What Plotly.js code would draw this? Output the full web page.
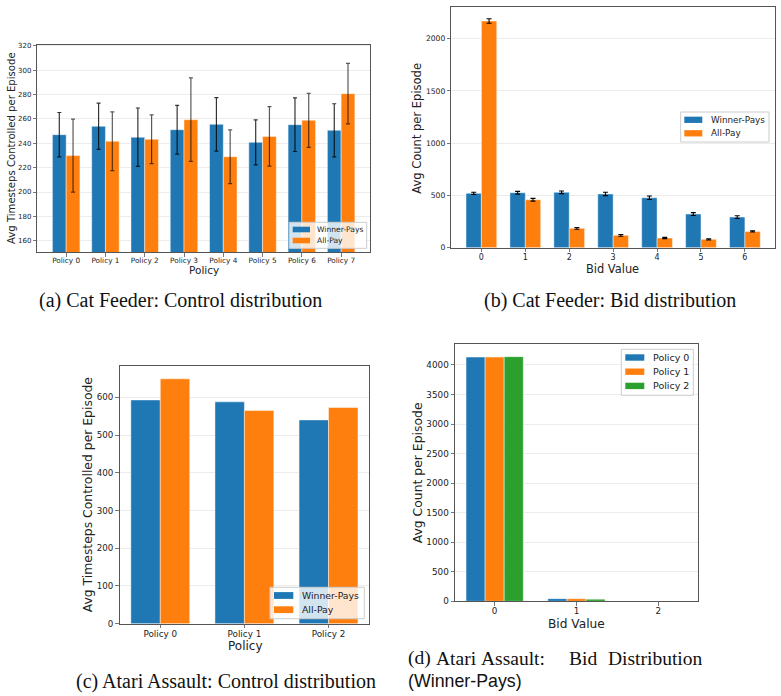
<!DOCTYPE html>
<html>
<head>
<meta charset="utf-8">
<script src="https://cdn.plot.ly/plotly-3.0.1.min.js"></script>
<style>html,body{margin:0;padding:0;background:#fff}#chart{width:781px;height:696px}</style>
</head>
<body>
<div id="chart"></div>
<script>
// ---------- Data ----------
// (a) Cat Feeder: control distribution
const cfPolicies = ['Policy 0','Policy 1','Policy 2','Policy 3','Policy 4','Policy 5','Policy 6','Policy 7'];
const cfCtrlWinnerPays    = [247.1, 254.0, 245.0, 251.2, 255.6, 240.8, 255.3, 250.7];
const cfCtrlWinnerPaysErr = [18.2, 19.0, 24.0, 20.0, 22.0, 18.5, 22.0, 21.8];
const cfCtrlAllPay        = [229.9, 241.7, 243.3, 259.4, 229.0, 245.7, 258.9, 280.8];
const cfCtrlAllPayErr     = [30.0, 24.2, 20.0, 34.3, 22.1, 24.5, 22.2, 24.9];

// (b) Cat Feeder: bid distribution
const cfBidValues        = ['0','1','2','3','4','5','6'];
const cfBidWinnerPays    = [520, 526, 530, 514, 478, 322, 293];
const cfBidWinnerPaysErr = [11, 13, 13, 16, 17, 14, 13];
const cfBidAllPay        = [2169, 459, 185, 118, 93, 80, 156];
const cfBidAllPayErr     = [22, 13, 8, 8, 6, 6, 6];

// (c) Atari Assault: control distribution
const atPolicies        = ['Policy 0','Policy 1','Policy 2'];
const atCtrlWinnerPays  = [593, 588, 540];
const atCtrlAllPay      = [649, 565, 573];

// (d) Atari Assault: bid distribution (Winner-Pays)
const atBidValues   = ['0','1','2'];
const atBidPolicy0  = [4133, 45, 6];
const atBidPolicy1  = [4133, 44, 6];
const atBidPolicy2  = [4140, 36, 2];

// Series names
const auctionNames = ['Winner-Pays', 'All-Pay'];
const policyNames  = ['Policy 0', 'Policy 1', 'Policy 2'];

// ---------- Helpers ----------
const W = 781, H = 696;
const px = x => x / W;
const py = y => 1 - y / H;
const idx = arr => arr.map((_, i) => i);
const BLUE = '#1f77b4', ORANGE = '#ff7f0e', GREEN = '#2ca02c';
const FONT = 'DejaVu Sans, sans-serif';
const edge = {color: 'rgba(255,255,255,0.45)', width: 1};

const traces = [
  // (a)
  {type:'bar', x: idx(cfPolicies), y: cfCtrlWinnerPays, name: auctionNames[0], xaxis:'x', yaxis:'y',
   marker:{color: BLUE, line: edge}, showlegend:false,
   error_y:{type:'data', array: cfCtrlWinnerPaysErr, visible:true, color:'rgba(0,0,0,0.8)', thickness:1.2, width:2}},
  {type:'bar', x: idx(cfPolicies), y: cfCtrlAllPay, name: auctionNames[1], xaxis:'x', yaxis:'y',
   marker:{color: ORANGE, line: edge}, showlegend:false,
   error_y:{type:'data', array: cfCtrlAllPayErr, visible:true, color:'rgba(0,0,0,0.65)', thickness:1.2, width:2}},
  // (b)
  {type:'bar', x: idx(cfBidValues), y: cfBidWinnerPays, name: auctionNames[0], xaxis:'x2', yaxis:'y2',
   marker:{color: BLUE, line: edge}, showlegend:false,
   error_y:{type:'data', array: cfBidWinnerPaysErr, visible:true, color:'#000', thickness:1.1, width:2.5}},
  {type:'bar', x: idx(cfBidValues), y: cfBidAllPay, name: auctionNames[1], xaxis:'x2', yaxis:'y2',
   marker:{color: ORANGE, line: edge}, showlegend:false,
   error_y:{type:'data', array: cfBidAllPayErr, visible:true, color:'#000', thickness:1.1, width:2.5}},
  // (c)
  {type:'bar', x: idx(atPolicies), y: atCtrlWinnerPays, name: auctionNames[0], xaxis:'x3', yaxis:'y3',
   marker:{color: BLUE, line: edge}, showlegend:false},
  {type:'bar', x: idx(atPolicies), y: atCtrlAllPay, name: auctionNames[1], xaxis:'x3', yaxis:'y3',
   marker:{color: ORANGE, line: edge}, showlegend:false},
  // (d)
  {type:'bar', x: idx(atBidValues), y: atBidPolicy0, name: policyNames[0], xaxis:'x4', yaxis:'y4',
   marker:{color: BLUE, line: edge}, showlegend:false},
  {type:'bar', x: idx(atBidValues), y: atBidPolicy1, name: policyNames[1], xaxis:'x4', yaxis:'y4',
   marker:{color: ORANGE, line: edge}, showlegend:false},
  {type:'bar', x: idx(atBidValues), y: atBidPolicy2, name: policyNames[2], xaxis:'x4', yaxis:'y4',
   marker:{color: GREEN, line: edge}, showlegend:false}
];

function xax(domain, range, labels, anchor, fs, so) {
  return {domain, range, anchor, tickvals: idx(labels), ticktext: labels,
    showline:true, mirror:true, linecolor:'#555', linewidth:1,
    ticks:'outside', ticklen:3.5, tickwidth:0.8, tickcolor:'#555', ticklabelstandoff: so,
    showgrid:false, zeroline:false, fixedrange:true,
    tickfont:{family: FONT, size: fs, color:'#222'}};
}
function yax(domain, range, dtick, anchor, fs) {
  return {domain, range, anchor, dtick, tick0:0,
    showline:true, mirror:true, linecolor:'#555', linewidth:1,
    ticks:'outside', ticklen:3.5, tickwidth:0.8, tickcolor:'#555',
    showgrid:true, gridcolor:'#ececec', gridwidth:1, zeroline:false, fixedrange:true,
    tickfont:{family: FONT, size: fs, color:'#222'}};
}

const annotations = [];
const shapes = [];

// matplotlib-style legend box drawn with shapes + text
function addLegend(box, swX0, swX1, rowY0, rowStep, swH, textX, fs, names, colors) {
  shapes.push({type:'rect', xref:'paper', yref:'paper', layer:'above',
    x0: px(box[0]), x1: px(box[2]), y0: py(box[3]), y1: py(box[1]),
    fillcolor:'rgba(255,255,255,0.8)', line:{color:'#cccccc', width:1}});
  names.forEach((n, i) => {
    const cy = rowY0 + i * rowStep;
    shapes.push({type:'rect', xref:'paper', yref:'paper', layer:'above',
      x0: px(swX0), x1: px(swX1), y0: py(cy + swH / 2), y1: py(cy - swH / 2),
      fillcolor: colors[i], line:{width:0}});
    annotations.push({text: n, x: px(textX), y: py(cy), xref:'paper', yref:'paper',
      showarrow:false, xanchor:'left', yanchor:'middle',
      font:{family: FONT, size: fs, color:'#222'}});
  });
}
addLegend([289.3, 222.3, 366.7, 248.3], 292.7, 310, 229.5, 11, 5.6, 314.5, 7.6, auctionNames, [BLUE, ORANGE]);
addLegend([680.7, 112, 769, 142], 684.3, 702.3, 119.8, 13.5, 6.3, 708.5, 8.8, auctionNames, [BLUE, ORANGE]);
addLegend([270, 587.3, 364.3, 618.7], 274, 293.3, 595.5, 14.2, 6.8, 300, 9.3, auctionNames, [BLUE, ORANGE]);
addLegend([621.3, 349.3, 693.3, 395.3], 625.3, 644.3, 357.5, 14.2, 6.4, 650.5, 9.5, policyNames, [BLUE, ORANGE, GREEN]);

const axisTitle = (text, x, y, size, rot) => ({text, x: px(x), y: py(y), xref:'paper', yref:'paper',
  showarrow:false, textangle: rot ? -90 : 0, xanchor:'center', yanchor:'middle',
  font:{family: FONT, size, color:'#222'}});
const caption = (text, x, y, size, xanchor, family) => ({text, x: px(x), y: py(y), xref:'paper', yref:'paper',
  showarrow:false, xanchor: xanchor || 'center', yanchor:'middle',
  font:{family: family || 'Liberation Serif, serif', size, color:'#111'}});

annotations.push(
  axisTitle('Avg Timesteps Controlled per Episode', 11.7, 148.3, 10.1, true),
  axisTitle('Policy', 203.8, 269.8, 10.5, false),
  axisTitle('Avg Count per Episode', 416.7, 128, 11.5, true),
  axisTitle('Bid Value', 612.7, 268.5, 11.4, false),
  axisTitle('Avg Timesteps Controlled per Episode', 88.3, 495, 12.4, true),
  axisTitle('Policy', 245, 645.5, 12, false),
  axisTitle('Avg Count per Episode', 417.3, 473, 12.4, true),
  axisTitle('Bid Value', 576.5, 624, 12.2, false),
  caption('(a) Cat Feeder: Control distribution', 180.5, 300, 20),
  caption('(b) Cat Feeder: Bid distribution', 609.5, 300, 20),
  caption('(c) Atari Assault: Control distribution', 226, 681, 20)
);
// (d) caption, first line is justified across the column
const capDWords   = ['(d)', 'Atari', 'Assault:', 'Bid', 'Distribution'];
const capDWordX   = [406, 434, 479.1, 567, 705];
const capDAnchor  = ['left', 'left', 'left', 'left', 'right'];
capDWords.forEach((w, i) => annotations.push(caption(w, capDWordX[i], 658, 19.5, capDAnchor[i])));
annotations.push(caption('(Winner-Pays)', 406, 681, 17.8, 'left', 'Liberation Sans, Arial, sans-serif'));

const layout = {
  width: W, height: H, margin:{l:0, r:0, t:0, b:0},
  paper_bgcolor:'#fff', plot_bgcolor:'#fff',
  barmode:'group', bargap:0.3, bargroupgap:0,
  font:{family: FONT},
  showlegend:false,
  xaxis:  xax([px(37.3), px(370)],  [-0.735, 7.735], cfPolicies, 'y', 7.3, -3),
  yaxis:  yax([py(252.3), py(44.7)], [150.5, 321], 20, 'x', 7),
  xaxis2: xax([px(451.3), px(775)], [-0.685, 6.685], cfBidValues, 'y2', 8, -2),
  yaxis2: yax([py(247.7), py(7)],   [0, 2303], 500, 'x2', 7.6),
  xaxis3: xax([px(119.5), px(369.3)], [-0.485, 2.485], atPolicies, 'y3', 8.8, -2),
  yaxis3: yax([py(623.7), py(366)], [0, 683], 100, 'x3', 8.7),
  xaxis4: xax([px(455), px(698.3)], [-0.485, 2.49], atBidValues, 'y4', 8.8, -2),
  yaxis4: yax([py(601.3), py(344.3)], [0, 4349], 500, 'x4', 8.8),
  shapes, annotations
};

Plotly.newPlot('chart', traces, layout, {staticPlot:true, displayModeBar:false});
</script>
</body>
</html>
